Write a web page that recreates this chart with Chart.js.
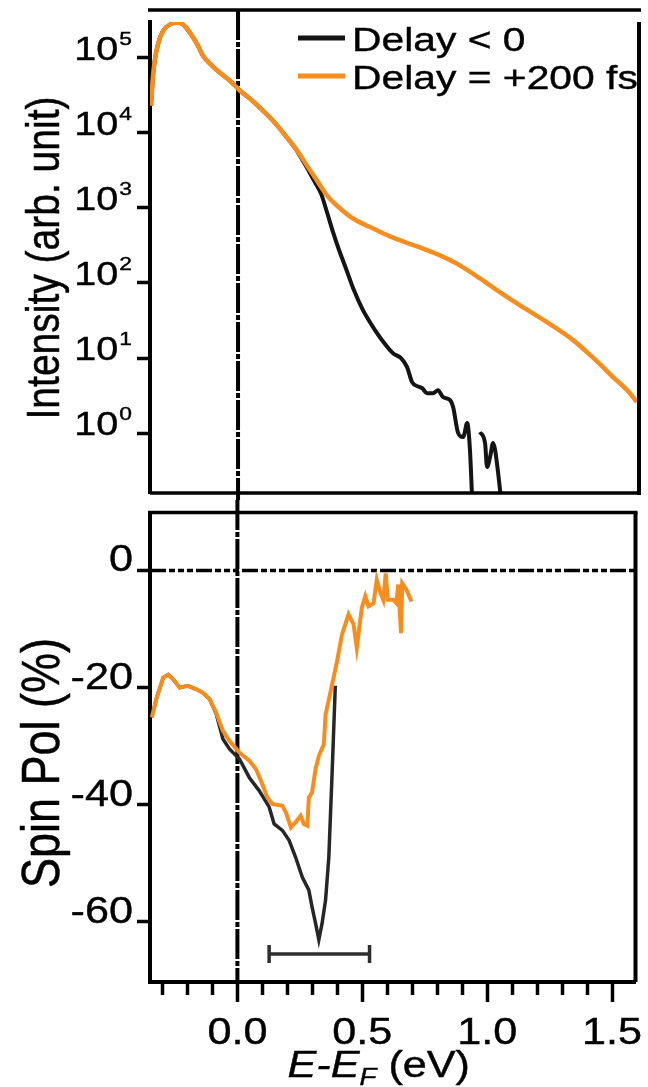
<!DOCTYPE html>
<html>
<head>
<meta charset="utf-8">
<script src="https://cdn.jsdelivr.net/npm/chart.js@4.4.1/dist/chart.umd.min.js"></script>
<style>
  html, body { margin: 0; padding: 0; background: #fff; }
  #top { position: absolute; left: 0; top: 0; width: 648px; height: 500px; }
  #bottom { position: absolute; left: 0; top: 500px; width: 648px; height: 587px; }
</style>
</head>
<body>
<div id="top"><canvas id="intensityChart"></canvas></div>
<div id="bottom"><canvas id="spinChart"></canvas></div>
<script>
// Energy axis (eV), shared by both panels
const energyMin = -0.35;
const energyMax = 1.594;
const energyTicks = [-0.3, -0.2, -0.1, 0, 0.1, 0.2, 0.3, 0.4, 0.5, 0.6, 0.7, 0.8, 0.9, 1.0, 1.1, 1.2, 1.3, 1.4, 1.5];
const energyMajor = [0, 0.5, 1.0, 1.5];
const energyMajorLabels = ['0.0', '0.5', '1.0', '1.5'];

// Intensity axis (log)
const intensityMin = 0.159;
const intensityMax = 3.0e5;
const intensityTicks = [1, 10, 100, 1000, 10000, 100000];
const intensityExponents = ['0', '1', '2', '3', '4', '5'];

// Spin polarisation axis (%)
const spinMin = -70.3;
const spinMax = 9.9;
const spinTicks = [-60, -40, -20, 0];
const spinTickLabels = ['-60', '-40', '-20', '0'];

// Intensity, delay = +200 fs
const energyPosTop = [-0.346, -0.338, -0.330, -0.318, -0.298, -0.270, -0.244, -0.219, -0.191, -0.163,
  -0.139, -0.111, -0.072, -0.032, 0.008, 0.048, 0.087, 0.139, 0.195, 0.235,
  0.274, 0.314, 0.354, 0.406, 0.457, 0.537, 0.604, 0.712, 0.803, 0.875,
  0.962, 1.042, 1.121, 1.229, 1.332, 1.388, 1.439, 1.491, 1.547, 1.586];
const intensityPos = [23000, 57700, 97000, 153000, 229000, 279000, 294000, 279000, 215000, 153000,
  106000, 83200, 63200, 49500, 36400, 28500, 21600, 14500, 8630, 5800,
  3660, 2310, 1460, 982, 723, 532, 417, 307, 233, 177,
  115, 75, 50.4, 29.9, 17.3, 11.9, 8.27, 5.55, 3.73, 2.58];

// Intensity, delay < 0 (null where the count drops to zero)
const energyNegTop = [-0.346, -0.338, -0.330, -0.318, -0.298, -0.270, -0.244, -0.219, -0.191, -0.163,
  -0.139, -0.111, -0.072, -0.032, 0.008, 0.048, 0.087, 0.139, 0.195, 0.235,
  0.250, 0.274, 0.302, 0.330, 0.354, 0.378, 0.398, 0.429, 0.461, 0.493,
  0.545, 0.588, 0.616, 0.648, 0.672, 0.692, 0.712, 0.732, 0.751, 0.775,
  0.795, 0.815, 0.843, 0.855, 0.875, 0.895, 0.911, 0.922, 0.934, 0.945,
  0.962, 0.982, 0.990, 1.002, 1.014, 1.022, 1.034, 1.054];
const intensityNeg = [23000, 57700, 97000, 153000, 229000, 279000, 294000, 279000, 215000, 153000,
  106000, 83200, 63200, 49500, 36400, 28500, 21600, 14500, 8630, 5700,
  4700, 3440, 2310, 1550, 869, 471, 297, 156, 79.7, 45.9,
  23.4, 14.8, 11.6, 9.94, 7.55, 4.77, 4.22, 3.96, 3.40, 3.40,
  3.73, 3.01, 2.75, 2.22, 1.0, 0.885, 1.36, 0.594, 0.07, null,
  1.03, 0.736, 0.353, 0.480, 0.736, 0.594, 0.294, 0.07];

// Spin polarisation, delay = +200 fs
const energyPosSpin = [-0.343, -0.323, -0.297, -0.277, -0.257, -0.231, -0.198, -0.164, -0.138, -0.111,
  -0.085, -0.058, -0.032, 0.008, 0.048, 0.074, 0.094, 0.120, 0.140, 0.180,
  0.194, 0.214, 0.233, 0.253, 0.266, 0.280, 0.286, 0.299, 0.313, 0.326,
  0.346, 0.353, 0.379, 0.399, 0.419, 0.445, 0.465, 0.478, 0.498, 0.512,
  0.525, 0.545, 0.558, 0.571, 0.584, 0.594, 0.602, 0.624, 0.637, 0.644,
  0.655, 0.660, 0.677, 0.697];
const spinPos = [-25.1, -21.7, -18.3, -17.8, -18.6, -20.0, -19.7, -20.3, -20.9, -22.0,
  -24.3, -27.4, -29.1, -31.1, -32.5, -33.9, -35.9, -38.8, -39.9, -40.2,
  -41.3, -43.9, -43.0, -41.9, -43.3, -43.6, -38.8, -37.9, -33.9, -31.7,
  -29.7, -24.6, -19.5, -15.5, -10.9, -7.5, -9.2, -13.2, -6.4, -4.4,
  -6.1, -5.6, -1.6, -3.6, -5.0, -0.5, -5.0, -5.0, -5.6, -2.4,
  -10.7, -2.2, -3.3, -5.3];

// Spin polarisation, delay < 0
const energyNegSpin = [-0.343, -0.323, -0.297, -0.277, -0.257, -0.231, -0.198, -0.164, -0.138, -0.111,
  -0.085, -0.058, -0.032, 0.008, 0.048, 0.087, 0.127, 0.147, 0.180, 0.207,
  0.233, 0.260, 0.286, 0.299, 0.313, 0.326, 0.339, 0.353, 0.366, 0.379, 0.392];
const spinNeg = [-25.1, -21.7, -18.3, -17.8, -18.6, -20.0, -19.7, -20.3, -20.9, -22.0,
  -24.5, -28.8, -30.5, -32.2, -35.4, -37.6, -40.4, -43.3, -44.4, -46.1,
  -49.0, -52.4, -54.6, -57.5, -60.3, -63.1, -60.3, -56.3, -49.0, -34.8, -19.7];

// Energy window bar under the dip
const barEnergy = [0.127, 0.529];
const barLevel = [-65.5, -65.5];

const ORANGE = '#F68D1E';
const BLACK = '#141414';
const FONT = '"Liberation Sans", Arial, Helvetica, sans-serif';
const SX = 1.2; // lettering in this figure is set wide

function toPoints(xs, ys) {
  return xs.map((x, i) => ({ x: x, y: ys[i] }));
}

function setFont(ctx, size, style) {
  ctx.font = (style ? style + ' ' : '') + size + 'px ' + FONT;
}

// draw horizontally widened text, with a hairline stroke to thicken it a touch
function wideText(ctx, text, x, y, size, align, style) {
  ctx.save();
  setFont(ctx, size, style);
  ctx.translate(x, y);
  ctx.scale(SX, 1);
  ctx.textAlign = align || 'left';
  ctx.textBaseline = 'alphabetic';
  ctx.fillStyle = '#000';
  ctx.strokeStyle = '#000';
  ctx.lineWidth = 0.4;
  ctx.fillText(text, 0, 0);
  ctx.strokeText(text, 0, 0);
  ctx.restore();
}

function wideWidth(ctx, text, size, style) {
  ctx.save();
  setFont(ctx, size, style);
  const w = ctx.measureText(text).width * SX;
  ctx.restore();
  return w;
}

function sideTitle(ctx, text, cx, cy, size) {
  ctx.save();
  ctx.translate(cx, cy);
  ctx.scale(SX, 1);
  ctx.rotate(-Math.PI / 2);
  setFont(ctx, size);
  ctx.textAlign = 'center';
  ctx.textBaseline = 'middle';
  ctx.fillStyle = '#000';
  ctx.strokeStyle = '#000';
  ctx.lineWidth = 0.4;
  ctx.fillText(text, 0, 0);
  ctx.strokeText(text, 0, 0);
  ctx.restore();
}

function line(ctx, x1, y1, x2, y2, width, dash) {
  ctx.save();
  ctx.strokeStyle = '#000';
  ctx.lineWidth = width;
  ctx.setLineDash(dash || []);
  ctx.beginPath();
  ctx.moveTo(x1, y1);
  ctx.lineTo(x2, y2);
  ctx.stroke();
  ctx.restore();
}

const ZERO_DASH = [30, 2, 5, 2];

// Top panel decorations: frame, E_F line, labels, legend
const intensityDecor = {
  id: 'intensityDecor',
  beforeDatasetsDraw(chart) {
    const x0 = chart.scales.x.getPixelForValue(0);
    line(chart.ctx, x0, 10, x0, chart.height, 4, ZERO_DASH);
  },
  afterDraw(chart) {
    const { ctx, chartArea: a, scales: { y } } = chart;
    line(ctx, a.left - 2, 10, a.right + 2, 10, 3.5);
    line(ctx, a.right, a.top, a.right, a.bottom + 2, 4);
    line(ctx, a.left, a.bottom, a.right + 2, a.bottom, 3.5);

    const right = a.left - 18;
    y.ticks.forEach((t, i) => {
      const py = y.getPixelForValue(t.value);
      const exp = intensityExponents[i];
      const expW = wideWidth(ctx, exp, 19);
      wideText(ctx, exp, right, py - 13, 19, 'right');
      wideText(ctx, '10', right - expW - 1, py + 2, 33, 'right');
    });

    sideTitle(ctx, 'Intensity (arb. unit)', 46, 258, 39);

    chart.data.datasets.forEach((ds, i) => {
      const ly = a.top + 16 + i * 38;
      ctx.save();
      ctx.strokeStyle = ds.borderColor;
      ctx.lineWidth = 5;
      ctx.beginPath();
      ctx.moveTo(a.left + 148, ly);
      ctx.lineTo(a.left + 195, ly);
      ctx.stroke();
      ctx.restore();
      wideText(ctx, ds.label, a.left + 202, ly + 13, 34, 'left');
    });
  }
};

// Bottom panel decorations: frame, zero lines, labels
const spinDecor = {
  id: 'spinDecor',
  beforeDatasetsDraw(chart) {
    const { chartArea: a, scales: { x, y } } = chart;
    const x0 = x.getPixelForValue(0);
    const y0 = y.getPixelForValue(0);
    line(chart.ctx, x0, 0, x0, a.bottom, 4, ZERO_DASH);
    line(chart.ctx, a.left, y0, a.right, y0, 3.5, [16, 3, 6, 3, 6, 3, 6, 3]);
  },
  afterDraw(chart) {
    const { ctx, chartArea: a, scales: { x, y } } = chart;
    line(ctx, a.left - 2, a.top, a.right + 2, a.top, 3.5);
    line(ctx, a.right, a.top, a.right, a.bottom, 4);

    spinTicks.forEach((v, i) => {
      wideText(ctx, spinTickLabels[i], a.left - 17, y.getPixelForValue(v) + 1, 36, 'right');
    });
    energyMajor.forEach((v, i) => {
      wideText(ctx, energyMajorLabels[i], x.getPixelForValue(v), a.bottom + 62, 36, 'center');
    });

    sideTitle(ctx, 'Spin Pol (%)', 44, 263, 45);

    // E-E_F (eV), with italic E and subscript F
    const parts = [
      { t: 'E-E', size: 36, style: 'italic', dy: 0 },
      { t: 'F', size: 23, style: 'italic', dy: 8 },
      { t: ' (eV)', size: 36, style: '', dy: 0 }
    ];
    const total = parts.reduce((s, p) => s + wideWidth(ctx, p.t, p.size, p.style), 0);
    let px = (a.left + a.right) / 2 - 14 - total / 2;
    const base = a.bottom + 95;
    parts.forEach(p => {
      wideText(ctx, p.t, px, base + p.dy, p.size, 'left', p.style);
      px += wideWidth(ctx, p.t, p.size, p.style);
    });
  }
};

const tickGrid = {
  drawOnChartArea: false,
  drawTicks: true,
  tickLength: 13,
  tickWidth: 3.5,
  tickColor: '#000'
};

new Chart(document.getElementById('intensityChart'), {
  type: 'line',
  data: {
    datasets: [
      {
        label: 'Delay < 0',
        data: toPoints(energyNegTop, intensityNeg),
        borderColor: BLACK,
        borderWidth: 4,
        order: 2
      },
      {
        label: 'Delay = +200 fs',
        data: toPoints(energyPosTop, intensityPos),
        borderColor: ORANGE,
        borderWidth: 4.5,
        order: 1
      }
    ]
  },
  options: {
    responsive: true,
    maintainAspectRatio: false,
    devicePixelRatio: 1,
    animation: false,
    elements: { point: { radius: 0 }, line: { cubicInterpolationMode: 'monotone', fill: false } },
    layout: { padding: { top: 22, right: 9, bottom: 7, left: 0 } },
    plugins: { legend: { display: false }, tooltip: { enabled: false } },
    scales: {
      x: { type: 'linear', min: energyMin, max: energyMax, display: false },
      y: {
        type: 'logarithmic',
        min: intensityMin,
        max: intensityMax,
        afterFit: s => { s.width = 150; },
        afterBuildTicks: s => { s.ticks = intensityTicks.map(v => ({ value: v })); },
        ticks: { display: false },
        grid: tickGrid,
        border: { display: true, color: '#000', width: 4 }
      }
    }
  },
  plugins: [intensityDecor]
});

new Chart(document.getElementById('spinChart'), {
  type: 'line',
  data: {
    datasets: [
      {
        label: 'Delay < 0',
        data: toPoints(energyNegSpin, spinNeg),
        borderColor: '#262626',
        borderWidth: 3.5,
        order: 2
      },
      {
        label: 'Delay = +200 fs',
        data: toPoints(energyPosSpin, spinPos),
        borderColor: ORANGE,
        borderWidth: 4,
        order: 1
      },
      {
        label: 'window',
        data: toPoints(barEnergy, barLevel),
        borderColor: '#2e2e2e',
        borderWidth: 3.5,
        pointStyle: 'line',
        pointRotation: 90,
        pointRadius: 9,
        pointBorderWidth: 3.5,
        pointBorderColor: '#2e2e2e',
        order: 0
      }
    ]
  },
  options: {
    responsive: true,
    maintainAspectRatio: false,
    devicePixelRatio: 1,
    animation: false,
    elements: { point: { radius: 0 }, line: { tension: 0, fill: false } },
    layout: { padding: { top: 11, right: 9, bottom: 0, left: 0 } },
    plugins: { legend: { display: false }, tooltip: { enabled: false } },
    scales: {
      x: {
        type: 'linear',
        min: energyMin,
        max: energyMax,
        afterFit: s => { s.height = 105; },
        afterBuildTicks: s => { s.ticks = energyTicks.map(v => ({ value: v })); },
        ticks: { display: false },
        grid: {
          drawOnChartArea: false,
          drawTicks: true,
          tickLength: 20,
          tickWidth: 3.5,
          tickColor: '#000',
          tickBorderDash: ctx => energyMajor.includes(ctx.tick.value) ? [] : [11, 40]
        },
        border: { display: true, color: '#000', width: 4 }
      },
      y: {
        min: spinMin,
        max: spinMax,
        afterFit: s => { s.width = 150; },
        afterBuildTicks: s => { s.ticks = spinTicks.map(v => ({ value: v })); },
        ticks: { display: false },
        grid: tickGrid,
        border: { display: true, color: '#000', width: 4 }
      }
    }
  },
  plugins: [spinDecor]
});
</script>
</body>
</html>
